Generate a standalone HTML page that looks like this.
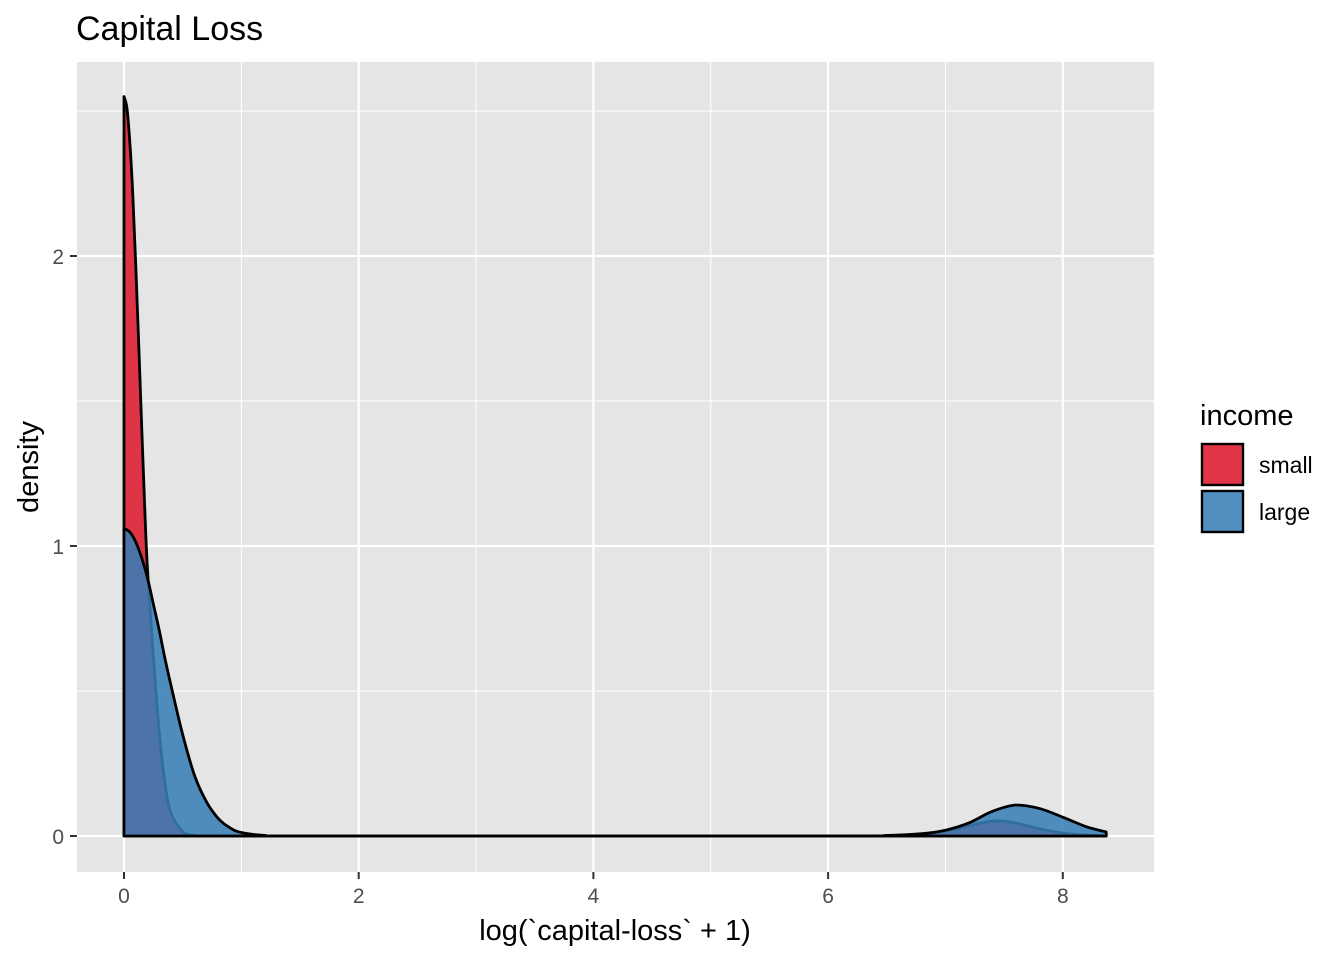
<!DOCTYPE html>
<html><head><meta charset="utf-8"><style>
html,body{margin:0;padding:0;background:#fff}
svg{display:block;font-family:"Liberation Sans",Arial,sans-serif}
</style></head><body>
<svg width="1344" height="960" viewBox="0 0 1344 960">
<text x="76" y="40" font-size="34" fill="#000">Capital Loss</text>
<rect x="77" y="62" width="1077" height="810" fill="#E5E5E5"/>
<g id="grid"></g>
<g id="marks"></g>
<g id="axes"></g>
<text x="615" y="940" font-size="29" text-anchor="middle" fill="#000">log(`capital-loss` + 1)</text>
<text transform="translate(38,467) rotate(-90)" font-size="29" text-anchor="middle" fill="#000">density</text>
<g>
<text x="1200" y="425" font-size="29" fill="#000">income</text>
<g>
<rect x="1202" y="444" width="41" height="41" fill="#DE2A3C" fill-opacity="0.95" stroke="#000" stroke-width="2.4"/>
<text x="1259" y="473" font-size="23" fill="#000">small</text></g>
<g>
<rect x="1202" y="491" width="41" height="41" fill="#377EB8" fill-opacity="0.87" stroke="#000" stroke-width="2.4"/>
<text x="1259" y="520" font-size="23" fill="#000">large</text></g>
</g>
</svg>
<script>
const smallX=[0,0.025,0.05,0.075,0.1,0.125,0.15,0.175,0.2,0.25,0.3,0.35,0.4,0.5,0.6,0.8,6.0,6.6,6.9,7.1,7.3,7.45,7.6,7.8,8.0,8.2,8.37];
const smallY=[2.55,2.51,2.39,2.21,1.97,1.70,1.42,1.15,0.92,0.62,0.36,0.18,0.08,0.015,0.002,0,0,0.002,0.01,0.025,0.045,0.052,0.045,0.025,0.01,0.003,0.001];
const largeX=[0,0.05,0.1,0.15,0.2,0.25,0.3,0.35,0.4,0.5,0.6,0.7,0.8,0.9,1.0,1.2,1.5,6.0,6.5,6.8,7.0,7.2,7.4,7.6,7.8,8.0,8.2,8.37];
const largeY=[1.06,1.048,1.014,0.96,0.89,0.80,0.71,0.61,0.52,0.35,0.21,0.12,0.062,0.029,0.012,0.002,0,0,0.002,0.008,0.02,0.045,0.085,0.107,0.095,0.065,0.032,0.014];
const xTicks=[0,2,4,6,8];
const xMinor=[1,3,5,7];
const yTicks=[0,1,2];
const yMinor=[0.5,1.5,2.5];
const NS="http://www.w3.org/2000/svg";
const sx=v=>124+v*117.35, sy=v=>836-v*290;
function mk(tag,attrs,parent){const e=document.createElementNS(NS,tag);for(const k in attrs)e.setAttribute(k,attrs[k]);parent.appendChild(e);return e;}
const grid=document.getElementById('grid'),marks=document.getElementById('marks'),axes=document.getElementById('axes');
xMinor.forEach(v=>{const l=mk('line',{x1:sx(v),x2:sx(v),y1:62,y2:872,stroke:'#fff','stroke-width':1},grid);

});
yMinor.forEach(v=>{const l=mk('line',{x1:77,x2:1154,y1:sy(v),y2:sy(v),stroke:'#fff','stroke-width':1},grid);

});
xTicks.forEach(v=>{const l=mk('line',{x1:sx(v),x2:sx(v),y1:62,y2:872,stroke:'#fff','stroke-width':2.2},grid);


const t=mk('line',{x1:sx(v),x2:sx(v),y1:872,y2:879,stroke:'#333','stroke-width':2},axes);


const tx=mk('text',{x:sx(v),y:903,'font-size':21,'text-anchor':'middle',fill:'#4D4D4D'},axes);tx.textContent=v;

});
yTicks.forEach(v=>{const l=mk('line',{x1:77,x2:1154,y1:sy(v),y2:sy(v),stroke:'#fff','stroke-width':2.2},grid);


const t=mk('line',{x1:70,x2:77,y1:sy(v),y2:sy(v),stroke:'#333','stroke-width':2},axes);


const tx=mk('text',{x:64,y:sy(v)+8,'font-size':21,'text-anchor':'end',fill:'#4D4D4D'},axes);tx.textContent=v;

});
function smoothPath(pts){
 let d='';
 for(let i=0;i<pts.length-1;i++){
  const p0=pts[Math.max(0,i-1)],p1=pts[i],p2=pts[i+1],p3=pts[Math.min(pts.length-1,i+2)];
  let c1x=p1[0]+(p2[0]-p0[0])/6,c1y=p1[1]+(p2[1]-p0[1])/6;
  let c2x=p2[0]-(p3[0]-p1[0])/6,c2y=p2[1]-(p3[1]-p1[1])/6;
  const lo=Math.min(p1[1],p2[1]),hi=Math.max(p1[1],p2[1]);
  c1y=Math.min(Math.max(c1y,lo),hi);c2y=Math.min(Math.max(c2y,lo),hi);
  d+=' C'+c1x.toFixed(2)+','+c1y.toFixed(2)+' '+c2x.toFixed(2)+','+c2y.toFixed(2)+' '+p2[0].toFixed(2)+','+p2[1].toFixed(2);
 }
 return d;
}
function area(xs,ys,fill,op,name){
 const pts=xs.map((x,i)=>[sx(x),sy(ys[i])]);
 let d='M'+sx(xs[0])+','+sy(0)+' L'+pts[0][0]+','+pts[0][1];
 d+=smoothPath(pts);
 d+=' L'+sx(xs[xs.length-1])+','+sy(0)+' Z';
 const p=mk('path',{d:d,fill:fill,'fill-opacity':op,stroke:'#000','stroke-width':2.8,'stroke-linejoin':'round'},marks);
 
 
}
area(smallX,smallY,'#DE2A3C',0.95,'density-small');
area(largeX,largeY,'#377EB8',0.87,'density-large');
</script>
</body></html>
